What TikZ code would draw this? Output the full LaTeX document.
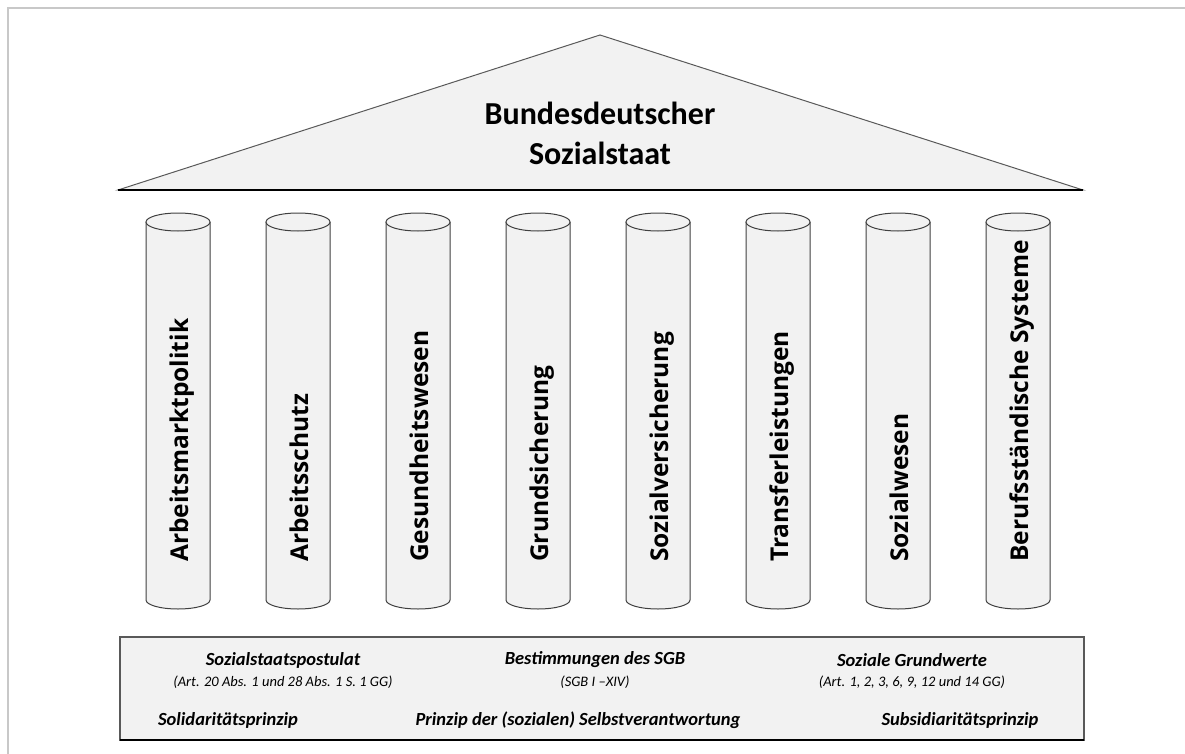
\documentclass[tikz,border=0pt]{standalone}
\usepackage{fontspec}
\setmainfont{Carlito}
\newfontfamily\colfont{Open Sans}
\definecolor{pillar}{HTML}{F2F2F2}
\definecolor{edge}{HTML}{595959}
\definecolor{framegray}{HTML}{C8C8C8}
\tikzset{
  roofline/.style={draw=edge, line width=1pt, fill=pillar},
  colshape/.style={draw=black!75, line width=1pt, fill=pillar},
  collabel/.style={rotate=90, anchor=base west, inner sep=0pt,
    font=\colfont\bfseries\fontsize{24.5}{28}\selectfont},
  headtext/.style={font=\bfseries\itshape\fontsize{18.5}{22}\selectfont},
  smalltext/.style={font=\itshape\fontsize{14.5}{17}\selectfont},
}
\begin{document}
\begin{tikzpicture}[x=1pt,y=-1pt]
\useasboundingbox (0,0) rectangle (1185,754);
\draw[framegray, line width=1.5pt] (8,754) -- (8,8) -- (1185,8);

% roof
\draw[roofline] (118,190) -- (600,35) -- (1083,190) -- cycle;
\draw[black, line width=1.2pt] (118,190) -- (1083,190);
\node[font=\bfseries\fontsize{32}{40}\selectfont, align=center] (roof) at (600,133) {Bundesdeutscher\\Sozialstaat};

% pillars
\foreach \x/\name/\txt in {178/markt/Arbeitsmarktpolitik, 298/schutz/Arbeitsschutz,
  418/gesund/Gesundheitswesen, 538/grund/Grundsicherung, 658/versich/Sozialversicherung,
  778/transfer/Transferleistungen, 898/wesen/Sozialwesen, 1018/beruf/Berufsständische Systeme}{
  \draw[colshape] (\x-32,222) -- (\x-32,600) arc[start angle=180, end angle=360, x radius=32pt, y radius=9pt] -- (\x+32,222);
  \draw[colshape] (\x,222) ellipse[x radius=32pt, y radius=9pt];
  \node[collabel] (\name) at (\x+10,562) {\txt};
}

% foundation
\draw[fill=pillar, draw=edge, line width=1.2pt] (120,637) rectangle (1084,740);
\draw[black, line width=1.5pt] (120,740) -- (1084,740);
\node[headtext] (postulat) at (283,660) {Sozialstaatspostulat};
\node[smalltext] (postref) at (283,682) {(Art. 20 Abs. 1 und 28 Abs. 1 S. 1 GG)};
\node[headtext] (sgb) at (595,660) {Bestimmungen des SGB};
\node[smalltext] (sgbref) at (595,682) {(SGB I –XIV)};
\node[headtext] (werte) at (912,660) {Soziale Grundwerte};
\node[smalltext] (werteref) at (912,682) {(Art. 1, 2, 3, 6, 9, 12 und 14 GG)};
\node[headtext] (solid) at (228,720) {Solidaritätsprinzip};
\node[headtext] (selbst) at (578,720) {Prinzip der (sozialen) Selbstverantwortung};
\node[headtext] (subsid) at (960,720) {Subsidiaritätsprinzip};
\end{tikzpicture}
\end{document}
